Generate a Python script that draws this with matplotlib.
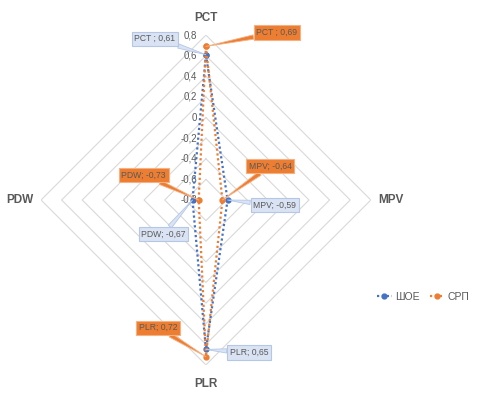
import numpy as np
import matplotlib.pyplot as plt

# axes of the radar, clockwise from the top
categories = ["PCT", "MPV", "PLR", "PDW"]
shoe = [0.61, -0.59, 0.65, -0.67]
srp = [0.69, -0.64, 0.72, -0.73]
series_names = ["ШОЕ", "СРП"]
ticks = [0.8, 0.6, 0.4, 0.2, 0.0, -0.2, -0.4, -0.6, -0.8]

BLUE = "#4472C4"
ORANGE = "#ED7D31"
GREY = "#595959"

plt.rcParams['font.family'] = ['Liberation Sans', 'DejaVu Sans']

fig = plt.figure(figsize=(4.78, 3.94), dpi=100)
ax = fig.add_axes([0.0858, 0.0736, 0.690, 0.8376], projection="polar")
ax.set_theta_zero_location("N")
ax.set_theta_direction(-1)
ax.set_ylim(-0.8, 0.8)
ax.grid(False)
ax.spines["polar"].set_visible(False)
ax.set_xticks([])
ax.set_yticks([])
ax.patch.set_alpha(0)

theta = np.linspace(0, 2 * np.pi, len(categories), endpoint=False)
theta_closed = np.append(theta, 0)

# diamond grid
for t in ticks[:-1]:
    ax.plot(theta_closed, [t] * (len(categories) + 1), color="#d9d9d9", lw=0.8, zorder=1)

# tick labels next to the top spoke
for t in ticks:
    lab = "0" if t == 0 else f"{t:.1f}".replace(".", ",")
    ax.annotate(lab, xy=(0, t), xytext=(-9, 0), textcoords="offset pixels",
                ha="right", va="center", fontsize=7, color=GREY)

# category labels
cat_offsets = [(0, 17), (20, 0), (0, -19), (-21, 0)]
for th, name, off in zip(theta, categories, cat_offsets):
    ax.annotate(name, xy=(th, 0.8), xytext=off, textcoords="offset pixels",
                ha="center", va="center", fontsize=8.5, fontweight="bold", color=GREY)

l1, = ax.plot(theta_closed, shoe + shoe[:1], color=BLUE, ls=(0, (1, 1.2)), lw=1.6,
              marker="o", ms=3.5, zorder=3, label=series_names[0])
l2, = ax.plot(theta_closed, srp + srp[:1], color=ORANGE, ls=(0, (1, 1.2)), lw=1.6,
              marker="o", ms=3.5, zorder=3, label=series_names[1])

# callout data labels
shoe_off = [(-51, 16), (47, -5), (43, -3), (-29, -34)]
srp_off = [(71, 14), (48, 34), (-48, 29), (-55, 25)]
seps = ["PCT ; ", "MPV; ", "PLR; ", "PDW; "]

def callout(th, v, txt, off, fc, ec):
    ax.annotate(txt, xy=(th, v), xytext=off, textcoords="offset pixels",
                ha="center", va="center", fontsize=6.2, color=GREY, zorder=5,
                bbox=dict(boxstyle="square,pad=0.3", fc=fc, ec=ec, lw=0.8),
                arrowprops=dict(arrowstyle="wedge,tail_width=0.5,shrink_factor=0.5",
                                fc=fc, ec=ec, lw=0.6, shrinkA=0, shrinkB=0))

for th, v, sep, off in zip(theta, shoe, seps, shoe_off):
    callout(th, v, sep + f"{v:.2f}".replace(".", ","), off, "#DAE3F3", "#B4C7E7")
for th, v, sep, off in zip(theta, srp, seps, srp_off):
    callout(th, v, sep + f"{v:.2f}".replace(".", ","), off, ORANGE, "#F4B183")

fig.legend(handles=[l1, l2], loc="center", bbox_to_anchor=(0.885, 0.246), ncol=2,
           frameon=False, fontsize=7.5, handlelength=1.4, columnspacing=1.0,
           handletextpad=0.3, labelcolor=GREY)

fig.savefig("out.png", dpi=100)
